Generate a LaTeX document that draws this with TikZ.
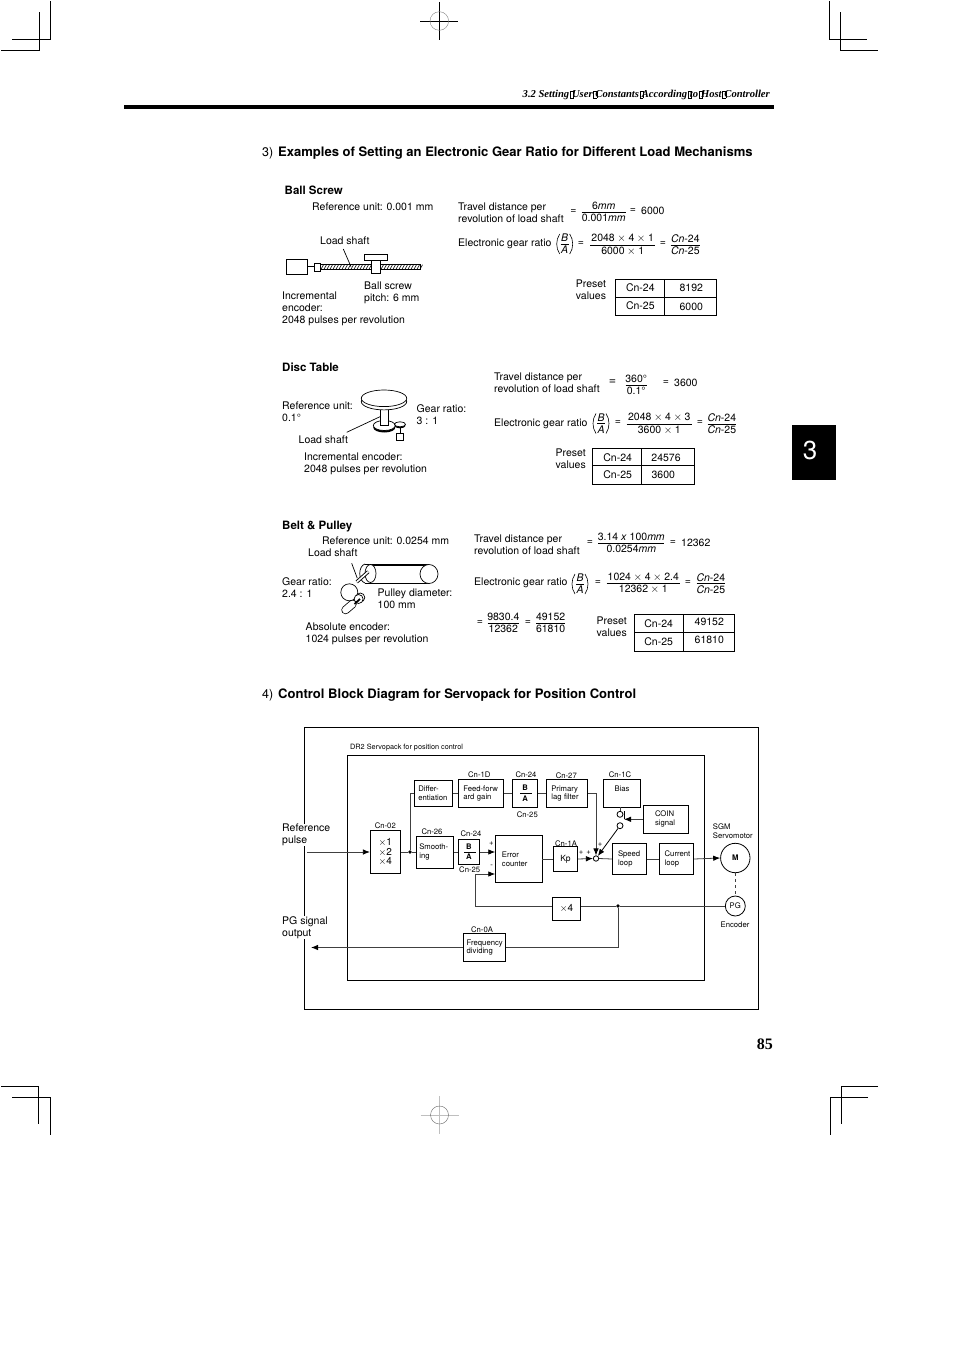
\documentclass[tikz,border=0pt]{standalone}
\usepackage{fontspec}
\setmainfont{TeX Gyre Heros}
\newfontfamily\headfont{Liberation Serif}
\usetikzlibrary{arrows.meta}
\newcommand{\nohyph}{\hyphenpenalty 10000\relax}
\tikzset{
  mark line/.style={line width=0.8pt},
  txt/.style={inner sep=0pt, anchor=west, align=left, font=\fontsize{10.5}{11.9}\selectfont},
  mid/.style={inner sep=0pt, align=center, font=\fontsize{10.5}{11.9}\selectfont},
  head/.style={inner sep=0pt, anchor=west, font=\fontsize{13.05}{15}\selectfont\bfseries},
  sub/.style={inner sep=0pt, anchor=west, font=\fontsize{11.5}{13}\selectfont\bfseries},
  tiny/.style={inner sep=0pt, align=left, font=\fontsize{7.7}{8.7}\selectfont},
  blk/.style={draw, line width=0.8pt, inner ysep=0pt, inner xsep=0pt, align=left, font=\fontsize{7.7}{8.7}\selectfont\nohyph},
  wire/.style={line width=0.8pt, black!75},
  arrow/.style={wire, -{Latex[length=7pt,width=5.5pt,color=black]}},
  dot/.style={circle, fill=black, inner sep=0pt, minimum size=3.6pt},
  ring/.style={circle, draw, line width=0.8pt, inner sep=0pt, fill=white},
  mech/.style={line width=0.7pt},
  tbl/.style={line width=0.9pt},
  bar/.style={line width=0.6pt}
}
% name, centre x, bar y, bar width, top, bottom
\newcommand{\ratio}[6]{
  \node[mid] (#1n) at (#2,#3-6.3) {#5};
  \node[mid] (#1d) at (#2,#3+6.0) {#6};
  \draw[bar] ({#2-#4/2},#3)--({#2+#4/2},#3);
}
% name, centre x, bar y
\newcommand{\bovera}[3]{
  \ratio{#1}{#2}{#3}{8}{\textit{B}}{\textit{A}}
  \draw[bar] ({#2-5},#3-10) .. controls ({#2-9},#3-4) and ({#2-9},#3+4) .. ({#2-5},#3+10);
  \draw[bar] ({#2+5},#3-10) .. controls ({#2+9},#3-4) and ({#2+9},#3+4) .. ({#2+5},#3+10);
}
\newcommand{\gapmark}{\kern0.6pt\fbox{\rule{0pt}{6pt}\rule{3.2pt}{0pt}}\kern-1.6pt}
\newcommand{\tm}{\kern2.6pt$\times$\kern2.6pt}
\setlength{\fboxsep}{0pt}
\setlength{\fboxrule}{0.3pt}
\begin{document}
\begin{tikzpicture}[x=1pt,y=-1pt]
\useasboundingbox (0,0) rectangle (954,1351);

% crop marks
\draw[mark line] (12.3,39.3)--(50.3,39.3)--(50.3,1);
\draw[mark line] (1,50.3)--(39.3,50.3)--(39.3,12.3);
\draw[mark line] (829.7,1)--(829.7,39.3)--(866.7,39.3);
\draw[mark line] (840.3,12.3)--(840.3,50.3)--(878,50.3);
\draw[mark line] (1,1086.7)--(38.7,1086.7)--(38.7,1124);
\draw[mark line] (12.3,1097.7)--(50,1097.7)--(50,1134.7);
\draw[mark line] (878,1086.7)--(841,1086.7)--(841,1124);
\draw[mark line] (868,1097.7)--(830,1097.7)--(830,1134.7);
\draw[mark line] (420.3,21)--(458.3,21);
\draw[mark line] (439.3,2)--(439.3,40);
\draw[black!50] (439.3,21) circle [radius=9.3];
\draw[black!25] (420.5,1115)--(458.5,1115);
\draw[black!25] (439.5,1096)--(439.5,1134);
\draw[black!60] (439.5,1115) circle [radius=9];

% page head
\node[inner sep=0pt, anchor=east, font=\fontsize{10.6}{12}\headfont\bfseries\itshape] (pagehead) at (770,95)
  {3.2 Setting\gapmark User\gapmark Constants\gapmark According\gapmark to\gapmark Host\gapmark Controller};
\fill (124,105) rectangle (773.7,109);
\fill (792,425) rectangle (836,480);
\node[inner sep=0pt, text=white, font=\fontsize{26}{28}\selectfont] (tabnum) at (810,450) {3};
\node[inner sep=0pt, anchor=east, font=\fontsize{16}{18}\headfont\bfseries] (pagenum) at (773,1044) {85};

% headings
\node[txt, font=\fontsize{12.5}{14}\selectfont] (no3) at (262,153.3) {3)};
\node[head] (title3) at (278,153.3) {Examples of Setting an Electronic Gear Ratio for Different Load Mechanisms};
\node[txt, font=\fontsize{12.5}{14}\selectfont] (no4) at (262,695) {4)};
\node[head] (title4) at (278,695) {Control Block Diagram for Servopack for Position Control};

% ball screw
\node[sub] (bshead) at (284.5,190.3) {Ball Screw};
\node[txt] (bsunit) at (312,206.5) {Reference unit: 0.001 mm};
\node[txt] (bsshaft) at (320,240.5) {Load shaft};
\node[txt] (bspitch) at (364,293) {Ball screw\\pitch: 6 mm};
\node[txt] (bsenc) at (282,309) {Incremental\\encoder:\\2048 pulses per revolution};
\draw[mech] (286,259.7) rectangle (307.7,274);
\draw[mech] (307.7,266.7)--(314.3,266.7);
\draw[mech] (314.3,263.3) rectangle (320,271.7);
\draw[mech] (320,264.8) rectangle (420.7,269.2);
\foreach \hx in {321,324,...,420} {
  \draw[line width=0.6pt] (\hx,269.2)--(\hx+2.5,264.8);
}
\draw[mech,fill=white] (371.3,260.7) rectangle (380,273.7);
\draw[mech,fill=white] (364,254.7) rectangle (387.3,260.7);
\draw[mech] (343.3,249)--(351,266.7);

\node[txt] (bstravel) at (458,212.5) {Travel distance per\\revolution of load shaft};
\node[mid] (bseq1) at (573.5,211.5) {=};
\ratio{bsa}{603.7}{212.3}{44}{6\textit{mm}}{0.001\textit{mm}}
\node[mid] (bseq2) at (633,211) {=};
\node[txt] (bsval) at (641,211) {6000};
\node[txt] (bsgear) at (458,244) {Electronic gear ratio};
\bovera{bsb}{564.7}{244}
\node[mid] (bseq3) at (581,243.5) {=};
\ratio{bsc}{622.7}{245}{65.3}{2048\tm 4\tm 1}{6000\tm 1}
\node[mid] (bseq4) at (663,243.5) {=};
\ratio{bsd}{685.3}{245}{29.3}{\textit{Cn}-24}{\textit{Cn}-25}
\node[mid] (bspre) at (591,289.5) {Preset\\values};
\draw[tbl] (615.7,279.3) rectangle (716.7,315);
\draw[tbl] (664.7,279.3)--(664.7,315);
\draw[tbl] (615.7,297)--(716.7,297);
\node[mid] (bst1) at (640.3,287.8) {Cn-24};
\node[mid] (bst2) at (691.3,288) {8192};
\node[mid] (bst3) at (640.3,305.8) {Cn-25};
\node[mid] (bst4) at (691.3,306.7) {6000};

% disc table
\node[sub] (dthead) at (282,367.3) {Disc Table};
\node[txt] (dtunit) at (282,411.5) {Reference unit:\\0.1°};
\node[txt] (dtgear) at (416.5,415) {Gear ratio:\\3 : 1};
\node[txt] (dtshaft) at (298.5,439.5) {Load shaft};
\node[txt] (dtenc) at (304,464) {Incremental encoder:\\2048 pulses per revolution};
\fill (384.3,427.5) ellipse [x radius=11,y radius=5];
\draw[mech,fill=white] (384.3,425.5) ellipse [x radius=11,y radius=5];
\draw[mech] (400,424.3)--(400,433.3);
\fill (400,425.8) ellipse [x radius=5.5,y radius=2.5];
\draw[mech,fill=white] (400,424.3) ellipse [x radius=5.5,y radius=2.5];
\draw[mech,fill=white] (396.7,433.3) rectangle (403.3,440.7);
\draw[mech,fill=white] (380,405) rectangle (388.3,425);
\draw[mech,fill=white] (384,401.6) ellipse [x radius=22.7,y radius=8.3];
\draw[mech,fill=white] (384,398.3) ellipse [x radius=22.7,y radius=8.3];
\draw[mech] (346.7,432.3)--(380,416.7);

\node[txt] (dttravel) at (494,382.8) {Travel distance per\\revolution of load shaft};
\node[mid, font=\fontsize{12.5}{14}\selectfont] (dteq1) at (612.5,382) {=};
\ratio{dta}{636.2}{385}{21}{360°}{0.1°}
\node[mid] (dteq2) at (666,382.5) {=};
\node[txt] (dtval) at (674,382.5) {3600};
\node[txt] (dtgratio) at (494,424) {Electronic gear ratio};
\bovera{dtb}{601}{423.5}
\node[mid] (dteq3) at (618,423) {=};
\ratio{dtc}{659.3}{424}{65.3}{2048\tm 4\tm 3}{3600\tm 1}
\node[mid] (dteq4) at (700,423) {=};
\ratio{dtd}{721.8}{424}{28.3}{\textit{Cn}-24}{\textit{Cn}-25}
\node[mid] (dtpre) at (570.7,458.5) {Preset\\values};
\draw[tbl] (592.3,448.3) rectangle (694,484.7);
\draw[tbl] (641.3,448.3)--(641.3,484.7);
\draw[tbl] (592.3,465.3)--(694,465.3);
\node[mid] (dtt1) at (617.7,457.5) {Cn-24};
\node[mid] (dtt2) at (666,457.5) {24576};
\node[mid] (dtt3) at (617.7,474.5) {Cn-25};
\node[mid] (dtt4) at (663.3,474.5) {3600};

% belt and pulley
\node[sub] (bphead) at (282,526.3) {Belt \& Pulley};
\node[txt] (bpunit) at (322,540.5) {Reference unit: 0.0254 mm};
\node[txt] (bpshaft) at (308,552.5) {Load shaft};
\node[txt] (bpgear) at (282,587.5) {Gear ratio:\\2.4 : 1};
\node[txt] (bppull) at (377.5,598.5) {Pulley diameter:\\100 mm};
\node[txt] (bpenc) at (305.5,633.8) {Absolute encoder:\\1024 pulses per revolution};
\draw[mech] (365,564)--(429,564);
\draw[mech] (368,565.5)--(429,565.5);
\draw[mech] (365,583)--(429,583);
\draw[mech] (365,564) .. controls (358,566) and (358,581) .. (365,583);
\draw[mech,fill=white] (370.5,573.5) ellipse [x radius=5.5,y radius=9];
\draw[mech,fill=white] (429,574) ellipse [x radius=9,y radius=9.5];
\draw[line width=3.4pt] (356.7,582)--(368.3,571.7);
\draw[line width=1.6pt,white] (356.7,582)--(368.3,571.7);
\draw[mech] (351.7,563.3)--(357.3,578.3);
\draw[mech,fill=white] (349.3,592.3) circle [radius=8.5];
\draw[mech,fill=white] (360.3,597.5) circle [radius=4.5];
\draw[mech,fill=white] (358.6,599) circle [radius=4.5];
\draw[line width=8.4pt,line cap=round] (345.5,610)--(352.5,604);
\draw[line width=6.8pt,line cap=round,white] (345.5,610)--(352.5,604);
\draw[line width=1.8pt] (354.5,604)--(360,599);

\node[txt] (bptravel) at (474,544.5) {Travel distance per\\revolution of load shaft};
\node[mid] (bpeq1) at (590,542.5) {=};
\ratio{bpa}{631.3}{543}{66}{3.14 \textit{x} 100\textit{mm}}{0.0254\textit{mm}}
\node[mid] (bpeq2) at (673,542.5) {=};
\node[txt] (bpval) at (681,542.5) {12362};
\node[txt] (bpgratio) at (474,583) {Electronic gear ratio};
\bovera{bpb}{580}{584}
\node[mid] (bpeq3) at (598,582.5) {=};
\ratio{bpc}{643.3}{583.3}{73.3}{1024\tm 4\tm 2.4}{12362\tm 1}
\node[mid] (bpeq4) at (688,582.5) {=};
\ratio{bpd}{710.8}{583.5}{28.3}{\textit{Cn}-24}{\textit{Cn}-25}
\node[mid] (bpeq5) at (480,622.5) {=};
\ratio{bpe}{503.3}{623.3}{31.3}{9830.4}{12362}
\node[mid] (bpeq6) at (528,622.5) {=};
\ratio{bpf}{550.6}{623.3}{28.7}{49152}{61810}
\node[mid] (bppre) at (611.7,627) {Preset\\values};
\draw[tbl] (634,614.3) rectangle (734,651);
\draw[tbl] (683.3,614.3)--(683.3,651);
\draw[tbl] (634,632.3)--(734,632.3);
\node[mid] (bpt1) at (658.7,623.7) {Cn-24};
\node[mid] (bpt2) at (709.3,622.3) {49152};
\node[mid] (bpt3) at (658.7,641.5) {Cn-25};
\node[mid] (bpt4) at (709.3,639.8) {61810};

% block diagram frames
\draw[line width=1pt] (304.3,727.7) rectangle (758.3,1009.3);
\draw[line width=0.8pt] (347,755.3) rectangle (704.7,980.7);
\node[tiny, anchor=west, font=\fontsize{7.3}{8.7}\selectfont] (packname) at (350,748) {DR2 Servopack for position control};
\node[txt, fill=white] (refpulse) at (282,835) {Reference\\pulse};
\node[txt, fill=white] (pgsignal) at (282,927.5) {PG signal\\output};

% upper row
\node[blk, minimum width=38.4pt, minimum height=26pt, text width=30.4pt] (diff) at (433.5,793.4) {Differ-\\entiation};
\node[blk, minimum width=44.6pt, minimum height=27.4pt, text width=35.4pt] (feed) at (481,793.4) {Feed-forw\\ard gain};
\node[blk, minimum width=25pt, minimum height=27.6pt, align=center, font=\fontsize{7.7}{10.7}\selectfont\bfseries] (baup) at (525.2,793.4) {B\\A};
\node[blk, minimum width=41pt, minimum height=27.6pt, text width=31pt] (prim) at (566.8,793.4) {Primary\\lag filter};
\node[blk, minimum width=37.4pt, minimum height=27.7pt, align=center] (bias) at (622,793.2) {Bias\\ \mbox{}};
\node[blk, minimum width=45pt, minimum height=28pt, text width=21.6pt] (coin) at (665.8,819.3) {COIN\\signal};
\draw[bar] (520,793.4)--(531.7,793.4);

% middle row
\node[blk, minimum width=30pt, minimum height=42.3pt, align=center, font=\fontsize{10}{9.7}\selectfont] (mult) at (385.3,852) {$\times$1\\$\times$2\\$\times$4};
\node[dot] (jref) at (410,852) {};
\node[blk, minimum width=37.4pt, minimum height=32pt, text width=31.4pt] (smooth) at (435,852) {Smooth-\\ing};
\node[blk, minimum width=21pt, minimum height=25.6pt, align=center, font=\fontsize{7.7}{9.8}\selectfont\bfseries] (balow) at (468.8,852) {B\\A};
\draw[bar] (464.3,852)--(476,852);
\node[blk, minimum width=46.3pt, minimum height=46.5pt, text width=33.7pt] (err) at (518.8,859) {Error\\counter};
\node[blk, minimum width=24.4pt, minimum height=24.6pt, align=center, font=\fontsize{8.5}{9}\selectfont] (kp) at (565.5,859) {Kp};
\node[ring, minimum size=5.4pt] (sum) at (596,858.5) {};
\node[blk, minimum width=34pt, minimum height=31.6pt, text width=22.6pt] (speed) at (629.3,859) {Speed\\loop};
\node[blk, minimum width=34.7pt, minimum height=31.7pt, text width=23.3pt] (cur) at (676.3,859) {Current\\loop};
\node[ring, minimum size=29.4pt, font=\fontsize{7.7}{9}\selectfont\bfseries] (motor) at (735.3,858) {M};
\node[ring, minimum size=20pt, font=\fontsize{7.7}{9}\selectfont] (pg) at (735.3,906) {PG};
\node[ring, minimum size=6pt] (swup) at (620,814.3) {};
\node[ring, minimum size=6pt] (swlow) at (620,825.7) {};
\coordinate (armtop) at (624,811);
\coordinate (armend) at (624,819.3);

% lower row
\node[blk, minimum width=28.4pt, minimum height=23.3pt, align=center, font=\fontsize{10}{10}\selectfont] (xfour) at (566.5,908.7) {$\times$4};
\node[dot] (jpg) at (618,906) {};
\node[blk, minimum width=41.6pt, minimum height=28.4pt, text width=35.6pt] (freq) at (484.5,947.5) {Frequency\\dividing};
\coordinate (refin) at (307,852);
\coordinate (pgout) at (311,947.5);
\coordinate (fbk) at (475,874);

% parameter labels
\node[tiny] (cn02) at (385.3,826) {Cn-02};
\node[tiny] (cn26) at (432,831.7) {Cn-26};
\node[tiny] (cn24a) at (471,833.7) {Cn-24};
\node[tiny] (cn25a) at (469.7,869.7) {Cn-25};
\node[tiny] (cn1d) at (479.3,775) {Cn-1D};
\node[tiny] (cn24b) at (526,775) {Cn-24};
\node[tiny] (cn25b) at (527.3,815) {Cn-25};
\node[tiny] (cn27) at (566.3,775.7) {Cn-27};
\node[tiny] (cn1c) at (620,774.3) {Cn-1C};
\node[tiny] (cn1a) at (566,843.3) {Cn-1A};
\node[tiny] (cn0a) at (482,929.3) {Cn-0A};
\node[tiny, anchor=west] (sgm) at (712.7,831.3) {SGM\\Servomotor};
\node[tiny] (enc) at (735,924.3) {Encoder};
\node[tiny] (pa) at (491.3,843.7) {+};
\node[tiny] (pb) at (491.7,866.3) {-};
\node[tiny] (pc) at (581,852.7) {+};
\node[tiny] (pd) at (588.7,852.7) {+};
\node[tiny] (pe) at (600,845) {+};

% connections
\draw[arrow] (refin)--(mult.west);
\draw[wire] (mult.east)--(jref)--(smooth.west);
\draw[wire] (jref) |- (diff.west);
\draw[wire] (diff.east)--(feed.west);
\draw[wire] (feed.east)--(baup.west);
\draw[wire] (baup.east)--(prim.west);
\draw[arrow] (prim.east) -| (sum.north);
\draw[wire] (smooth.east)--(balow.west);
\draw[arrow] (balow.east)--(balow.east -| err.west);
\draw[wire] (err.east)--(kp.west);
\draw[arrow] (kp.east)--(sum.west);
\draw[wire] (sum.east)--(speed.west);
\draw[wire] (speed.east)--(cur.west);
\draw[arrow] (cur.east)--(motor.west);
\draw[wire, dashed] (motor.south)--(pg.north);
\draw[wire] (pg.west)--(jpg);
\draw[wire] (jpg)--(jpg -| xfour.east);
\draw[wire] (jpg -| xfour.west) -| (fbk);
\draw[arrow] (fbk)--(fbk -| err.west);
\draw[wire] (jpg) |- (freq.east);
\draw[arrow] (freq.west)--(pgout);
\draw[wire] (swup |- bias.south)--(swup);
\draw[line width=0.8pt] (armtop)--(armend);
\draw[arrow] (coin.west)--(armend);
\draw[arrow, black] (swlow)--(sum);
\end{tikzpicture}
\end{document}
